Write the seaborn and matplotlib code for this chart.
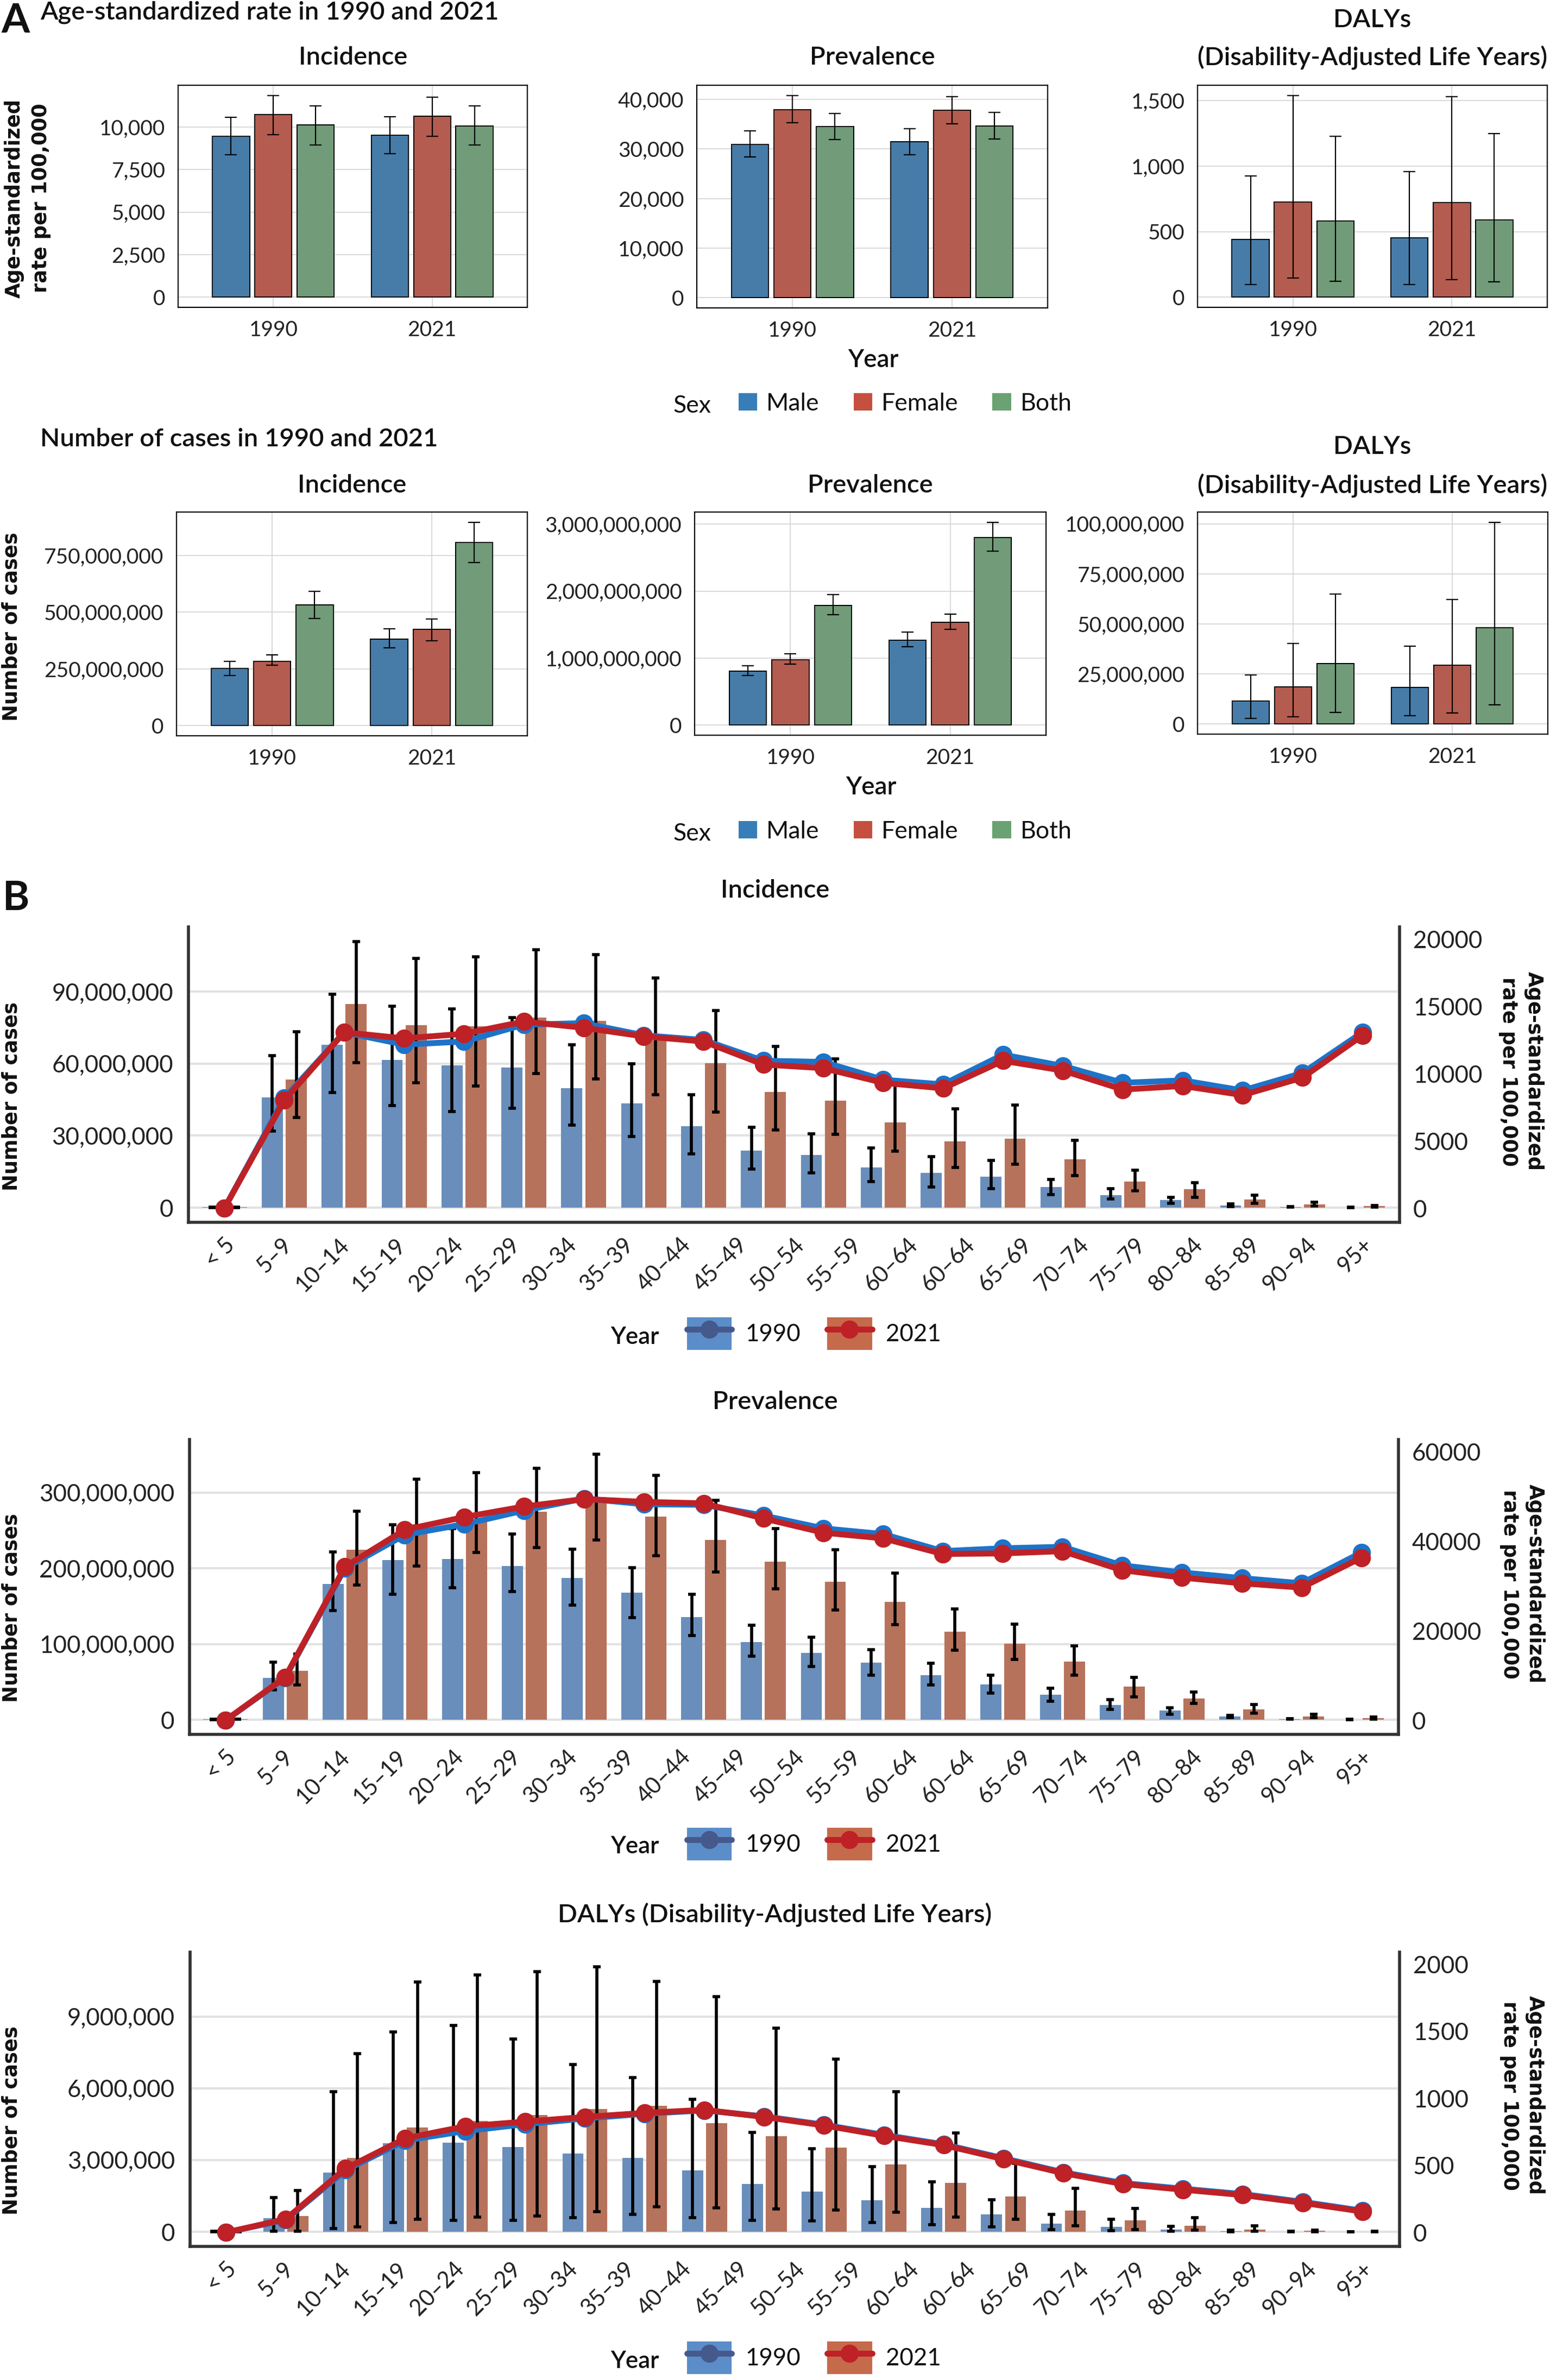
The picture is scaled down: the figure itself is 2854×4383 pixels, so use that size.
import numpy as np
import pandas as pd
import matplotlib
matplotlib.use('Agg')
import matplotlib.pyplot as plt
import matplotlib.transforms as mtransforms
from matplotlib.patches import Patch
from matplotlib.lines import Line2D
from matplotlib.ticker import MultipleLocator, FuncFormatter
import seaborn as sns

sns.set_style('white')
plt.rcParams['font.family'] = ['Lato', 'DejaVu Sans']

# ── Panel A data (order: 1990 Male/Female/Both, 2021 Male/Female/Both) ──
years = ['1990', '2021']
sexes = ['Male', 'Female', 'Both']

inc_rate_val = [9447, 10715, 10128, 9526, 10635, 10065]
inc_rate_lo = [8353, 9558, 8955, 8416, 9447, 8955]
inc_rate_hi = [10556, 11856, 11222, 10588, 11745, 11222]

prev_rate_val = [30887, 37981, 34543, 31432, 37817, 34652]
prev_rate_lo = [28376, 35307, 31869, 28813, 35089, 31978]
prev_rate_hi = [33670, 40818, 37162, 34106, 40600, 37380]

daly_rate_val = [439, 729, 583, 453, 723, 589]
daly_rate_lo = [99, 146, 122, 99, 136, 119]
daly_rate_hi = [925, 1541, 1230, 958, 1533, 1248]

inc_cases_val = [251e6, 282e6, 532e6, 380e6, 425e6, 808e6]
inc_cases_lo = [220e6, 267e6, 473e6, 342e6, 375e6, 719e6]
inc_cases_hi = [282e6, 312e6, 592e6, 427e6, 470e6, 896e6]

prev_cases_val = [0.809e9, 0.974e9, 1.783e9, 1.271e9, 1.535e9, 2.798e9]
prev_cases_lo = [0.739e9, 0.908e9, 1.647e9, 1.172e9, 1.428e9, 2.596e9]
prev_cases_hi = [0.887e9, 1.065e9, 1.948e9, 1.387e9, 1.655e9, 3.029e9]

daly_cases_val = [11.4e6, 18.6e6, 30.1e6, 18.3e6, 29.4e6, 48.0e6]
daly_cases_lo = [2.8e6, 3.7e6, 5.9e6, 4.1e6, 5.5e6, 9.7e6]
daly_cases_hi = [24.4e6, 40.3e6, 64.8e6, 39.0e6, 62.2e6, 100.8e6]

# ── Panel B data (cases in millions, rates per 100,000) ──
age_groups = ['< 5', '5–9', '10–14', '15–19', '20–24', '25–29', '30–34', '35–39',
              '40–44', '45–49', '50–54', '55–59', '60–64', '65–69', '70–74',
              '75–79', '80–84', '85–89', '90–94', '95+']
# tick labels as printed in the figure (60–64 appears twice)
age_ticks = ['< 5', '5–9', '10–14', '15–19', '20–24', '25–29', '30–34', '35–39',
             '40–44', '45–49', '50–54', '55–59', '60–64', '60–64', '65–69', '70–74',
             '75–79', '80–84', '85–89', '90–94', '95+']

inc_1990 = [0.15, 46.0, 68.0, 61.6, 59.3, 58.3, 49.9, 43.5, 33.9, 23.8, 22.0, 16.8, 14.4, 13.0, 8.5, 5.3, 3.2, 0.9, 0.3, 0.1]
inc_1990_lo = [0.1, 32.0, 47.9, 42.6, 40.0, 41.5, 34.3, 29.6, 22.5, 16.1, 14.6, 10.8, 8.5, 8.0, 5.5, 3.6, 1.9, 0.5, 0.15, 0.05]
inc_1990_hi = [0.2, 63.3, 88.9, 83.9, 82.8, 79.2, 68.0, 60.0, 47.0, 33.4, 30.7, 24.8, 21.2, 19.7, 11.7, 7.9, 4.2, 1.5, 0.5, 0.2]
inc_2021 = [0.2, 53.4, 84.8, 76.0, 75.6, 79.2, 77.9, 69.6, 60.1, 48.3, 44.5, 35.6, 27.6, 28.8, 20.1, 10.8, 7.6, 3.4, 1.3, 0.6]
inc_2021_lo = [0.1, 37.5, 60.4, 52.1, 50.6, 55.9, 53.6, 47.0, 39.8, 32.4, 30.5, 23.5, 16.8, 18.2, 13.3, 7.0, 4.2, 1.9, 0.6, 0.3]
inc_2021_hi = [0.3, 73.3, 110.9, 103.8, 104.6, 107.6, 105.5, 95.8, 82.2, 67.3, 62.0, 52.1, 41.3, 42.8, 28.0, 15.6, 10.5, 5.3, 2.2, 1.0]
inc_rate_1990 = [0, 8180, 13070, 12160, 12390, 13640, 13750, 12850, 12500, 10960, 10870, 9550, 9200, 11410, 10570, 9320, 9500, 8750, 10050, 13070]
inc_rate_2021 = [0, 8020, 13070, 12620, 12960, 13870, 13410, 12770, 12390, 10680, 10410, 9320, 8910, 10960, 10230, 8820, 9090, 8410, 9710, 12840]

prev_1990 = [0.5, 55.3, 179.4, 210.5, 212.3, 203.0, 187.0, 167.5, 135.3, 102.8, 87.9, 75.5, 59.1, 46.7, 33.0, 19.5, 12.0, 4.5, 1.1, 0.4]
prev_1990_lo = [0.3, 39.3, 143.9, 165.6, 174.6, 169.0, 151.4, 134.6, 111.0, 84.0, 70.3, 58.7, 46.0, 35.5, 24.3, 13.8, 7.5, 3.0, 0.7, 0.2]
prev_1990_hi = [0.7, 75.9, 221.7, 257.2, 252.3, 245.6, 225.0, 201.0, 165.6, 124.5, 109.2, 92.7, 74.8, 59.1, 41.5, 26.9, 16.0, 5.6, 1.5, 0.6]
prev_2021 = [0.8, 64.3, 224.3, 258.0, 263.6, 274.8, 291.6, 268.0, 237.4, 208.6, 182.0, 155.9, 115.9, 100.2, 76.6, 44.1, 28.0, 13.8, 4.5, 2.2]
prev_2021_lo = [0.5, 45.6, 177.6, 203.0, 220.6, 227.0, 237.4, 216.8, 195.0, 173.0, 144.7, 125.2, 91.6, 79.3, 58.7, 29.9, 21.3, 8.6, 2.6, 1.0]
prev_2021_hi = [1.1, 86.7, 275.5, 317.8, 326.4, 332.0, 350.7, 322.6, 289.7, 252.3, 224.3, 193.3, 146.5, 126.4, 97.9, 56.0, 36.3, 19.8, 7.5, 3.5]
prev_rate_1990 = [0, 9525, 34000, 41400, 43815, 46860, 49530, 48260, 48130, 45720, 42860, 41590, 37780, 38420, 38735, 34600, 33020, 31750, 30600, 37465]
prev_rate_2021 = [0, 9650, 34290, 42545, 45400, 47750, 49400, 48770, 48450, 45085, 41910, 40640, 37150, 37275, 37780, 33530, 31880, 30600, 29650, 36320]

daly_1990 = [0.01, 0.56, 2.47, 3.70, 3.73, 3.55, 3.28, 3.09, 2.57, 1.99, 1.69, 1.33, 1.01, 0.72, 0.35, 0.20, 0.10, 0.03, 0.01, 0.005]
daly_1990_lo = [0.0, 0.02, 0.13, 0.39, 0.48, 0.48, 0.59, 0.72, 0.59, 0.49, 0.46, 0.39, 0.30, 0.20, 0.09, 0.04, 0.03, 0.01, 0.0, 0.0]
daly_1990_hi = [0.03, 1.43, 5.85, 8.35, 8.62, 8.06, 7.00, 6.44, 5.55, 4.16, 3.47, 2.73, 2.08, 1.34, 0.74, 0.52, 0.22, 0.06, 0.02, 0.01]
daly_2021 = [0.01, 0.65, 3.08, 4.36, 4.64, 4.88, 5.14, 5.27, 4.55, 4.00, 3.51, 2.82, 2.05, 1.47, 0.88, 0.49, 0.26, 0.10, 0.04, 0.01]
daly_2021_lo = [0.0, 0.02, 0.20, 0.52, 0.61, 0.65, 0.85, 1.04, 1.00, 0.95, 0.91, 0.81, 0.62, 0.52, 0.26, 0.09, 0.07, 0.02, 0.01, 0.0]
daly_2021_hi = [0.03, 1.72, 7.45, 10.44, 10.73, 10.88, 11.08, 10.47, 9.82, 8.52, 7.22, 5.85, 4.14, 2.86, 1.82, 0.98, 0.59, 0.26, 0.07, 0.02]
daly_rate_1990 = [0, 95, 465, 686, 756, 807, 850, 885, 910, 865, 803, 727, 657, 553, 448, 368, 326, 286, 228, 162]
daly_rate_2021 = [0, 100, 477, 702, 791, 826, 861, 891, 914, 861, 798, 721, 651, 547, 442, 361, 319, 279, 221, 156]

# ── style ──
sex_colors = {'Male': '#377EB8', 'Female': '#C5503F', 'Both': '#6AA274'}
bar_colors = {'1990': '#5B8DC9', '2021': '#C66A4C'}
line_colors = {'1990': '#1E73C8', '2021': '#BE2126'}
legend_line_colors = {'1990': '#46598C', '2021': '#BE2126'}
TXT = '#111111'

W, H, DPI = 2854, 4383, 200
fig = plt.figure(figsize=(W / DPI, H / DPI), dpi=DPI)
comma = FuncFormatter(lambda v, _: f'{v:,.0f}')


def px_box(l, t, r, b):
    return [l / W, 1 - b / H, (r - l) / W, (b - t) / H]


def ftext(x, y, s, **kw):
    kw.setdefault('color', TXT)
    return fig.text(x / W, 1 - y / H, s, **kw)


def add_errorbars(ax, df, hue, hue_levels, cat, order, lw, cap, capthick):
    for level, cont in zip(hue_levels, ax.containers):
        sub = df[df[hue] == level].set_index(cat).loc[order]
        xs = sorted(p.get_x() + p.get_width() / 2 for p in cont.patches)
        ax.errorbar(xs, sub['val'], yerr=[sub['val'] - sub['lo'], sub['hi'] - sub['val']],
                    fmt='none', ecolor='black', elinewidth=lw, capsize=cap,
                    capthick=capthick, zorder=3)


# ── Panel A ──
year_col = ['1990'] * 3 + ['2021'] * 3
sex_col = sexes * 2


def draw_a(box, val, lo, hi, step):
    ax = fig.add_axes(px_box(*box))
    df = pd.DataFrame({'Year': year_col, 'Sex': sex_col, 'val': val, 'lo': lo, 'hi': hi})
    sns.barplot(data=df, x='Year', y='val', hue='Sex', order=years, hue_order=sexes,
                palette=sex_colors, width=0.8, gap=0.125, errorbar=None, legend=False,
                edgecolor='black', linewidth=0.7, zorder=2, ax=ax)
    add_errorbars(ax, df, 'Sex', sexes, 'Year', years, lw=0.8, cap=4, capthick=0.8)
    top = max(hi)
    ax.set_ylim(-0.05 * top, 1.05 * top)
    ax.set_xlim(-0.6, 1.6)
    ax.yaxis.set_major_locator(MultipleLocator(step))
    ax.yaxis.set_major_formatter(comma)
    ax.grid(True, color='#D3D3D3', linewidth=0.6)
    ax.set_axisbelow(True)
    ax.set_xlabel('')
    ax.set_ylabel('')
    for s in ax.spines.values():
        s.set_visible(True)
        s.set_color('black')
        s.set_linewidth(0.8)
    ax.tick_params(direction='out', length=4.5, width=0.7, color='black',
                   labelsize=14, labelcolor='#222222', pad=4)
    return ax


draw_a((328, 157, 971, 566), inc_rate_val, inc_rate_lo, inc_rate_hi, 2500)
draw_a((1283, 157, 1929, 567), prev_rate_val, prev_rate_lo, prev_rate_hi, 10000)
draw_a((2205, 157, 2849, 566), daly_rate_val, daly_rate_lo, daly_rate_hi, 500)
draw_a((325, 943, 971, 1355), inc_cases_val, inc_cases_lo, inc_cases_hi, 250e6)
draw_a((1279, 943, 1926, 1354), prev_cases_val, prev_cases_lo, prev_cases_hi, 1e9)
draw_a((2205, 943, 2850, 1352), daly_cases_val, daly_cases_lo, daly_cases_hi, 25e6)

TITLE = dict(fontsize=17, fontweight='semibold', va='baseline')
ftext(2, 60, 'A', fontsize=27, fontweight='bold', va='baseline')
ftext(74, 35, 'Age-standardized rate in 1990 and 2021', ha='left', **TITLE)
ftext(650, 119, 'Incidence', ha='center', **TITLE)
ftext(1606, 119, 'Prevalence', ha='center', **TITLE)
ftext(2527, 50, 'DALYs', ha='center', **TITLE)
ftext(2527, 119, '(Disability-Adjusted Life Years)', ha='center', **TITLE)
ftext(1608, 676, 'Year', ha='center', fontsize=16.5, fontweight='semibold', va='baseline')
ftext(51, 365, 'Age-standardized\nrate per 100,000', rotation=90, ha='center', va='center',
      fontsize=13.3, fontweight='bold', family='DejaVu Sans', linespacing=1.4)

ftext(74, 822, 'Number of cases in 1990 and 2021', ha='left', **TITLE)
ftext(648, 907, 'Incidence', ha='center', **TITLE)
ftext(1602, 907, 'Prevalence', ha='center', **TITLE)
ftext(2527, 836, 'DALYs', ha='center', **TITLE)
ftext(2527, 907, '(Disability-Adjusted Life Years)', ha='center', **TITLE)
ftext(1604, 1463, 'Year', ha='center', fontsize=16.5, fontweight='semibold', va='baseline')
ftext(21, 1154, 'Number of cases', rotation=90, ha='center', va='center',
      fontsize=13.3, fontweight='bold', family='DejaVu Sans')


def sex_legend(y_center, baseline):
    ftext(1239, baseline, 'Sex', fontsize=16, va='baseline')
    handles = [Patch(facecolor=sex_colors[s], edgecolor='none') for s in sexes]
    leg = fig.legend(handles, sexes, loc='center left', bbox_to_anchor=(1360 / W, 1 - y_center / H),
                     ncol=3, frameon=False, fontsize=16, handlelength=0.77, handleheight=0.74,
                     handletextpad=0.38, columnspacing=1.42, borderpad=0, borderaxespad=0)
    for t in leg.get_texts():
        t.set_color(TXT)


sex_legend(743, 760)
sex_legend(1531, 1548)

# ── Panel B ──
n_age = len(age_groups)


def draw_b(box, v90, lo90, hi90, v21, lo21, hi21, r90, r21, step, rate_step, rate_top):
    ax = fig.add_axes(px_box(*box))
    df = pd.DataFrame({
        'Age': age_groups * 2,
        'Year': ['1990'] * n_age + ['2021'] * n_age,
        'val': np.array(v90 + v21) * 1e6,
        'lo': np.array(lo90 + lo21) * 1e6,
        'hi': np.array(hi90 + hi21) * 1e6,
    })
    sns.barplot(data=df, x='Age', y='val', hue='Year', order=age_groups, hue_order=years,
                palette=bar_colors, width=0.8, gap=0.12, errorbar=None, legend=False,
                linewidth=0, zorder=2, ax=ax)
    add_errorbars(ax, df, 'Year', years, 'Age', age_groups, lw=2.0, cap=2.4, capthick=2.0)

    ax2 = ax.twinx()
    for yr, rates in (('1990', r90), ('2021', r21)):
        sns.pointplot(x=age_groups, y=rates, order=age_groups, color=line_colors[yr],
                      markers='o', linestyles='-', linewidth=3.9, markersize=12,
                      markeredgewidth=0, errorbar=None, ax=ax2)

    m = max(hi90 + hi21) * 1e6
    ax.set_ylim(-0.055 * m, 1.055 * m)
    ax2.set_ylim(-0.052 * rate_top, 1.045 * rate_top)
    ax.set_xlim(-0.6, n_age - 1 + 0.62)
    ax.yaxis.set_major_locator(MultipleLocator(step))
    ax.yaxis.set_major_formatter(comma)
    ax2.yaxis.set_major_locator(MultipleLocator(rate_step))
    ax2.yaxis.set_major_formatter(FuncFormatter(lambda v, _: f'{v:.0f}'))

    ax.set_xticks(np.linspace(0, n_age - 1, len(age_ticks)))
    ax.set_xticklabels(age_ticks, rotation=45, ha='right', va='top', rotation_mode='anchor')
    shift = mtransforms.ScaledTranslation(5 / 72, 0, fig.dpi_scale_trans)
    for lab in ax.get_xticklabels():
        lab.set_transform(lab.get_transform() + shift)

    ax.yaxis.grid(True, color='#E2E2E2', linewidth=1.5)
    ax.xaxis.grid(False)
    ax.set_axisbelow(True)
    ax2.grid(False)
    for a in (ax, ax2):
        a.set_xlabel('')
        a.set_ylabel('')
        for s in a.spines.values():
            s.set_visible(False)
            s.set_color('#333333')
            s.set_linewidth(2.0)
    ax.spines['left'].set_visible(True)
    ax.spines['bottom'].set_visible(True)
    ax2.spines['right'].set_visible(True)
    ax.tick_params(axis='y', length=0, pad=10, labelsize=15.8, labelcolor='#222222')
    ax.tick_params(axis='x', length=0, pad=8, labelsize=15, labelcolor='#222222')
    ax2.tick_params(axis='y', length=0, pad=9, labelsize=15.8, labelcolor='#222222')
    return ax


def year_legend(y_center, baseline):
    ftext(1124, baseline, 'Year', fontsize=15.8, fontweight='semibold', va='baseline')
    handles = [(Patch(facecolor=bar_colors[y], edgecolor='none'),
                Line2D([], [], color=legend_line_colors[y], marker='o', markersize=12,
                       linewidth=3.9, markeredgewidth=0)) for y in years]
    leg = fig.legend(handles, years, loc='center left', bbox_to_anchor=(1265 / W, 1 - y_center / H),
                     ncol=2, frameon=False, fontsize=15.8, handlelength=1.87, handleheight=1.72,
                     handletextpad=0.58, columnspacing=1.12, borderpad=0, borderaxespad=0)
    for t in leg.get_texts():
        t.set_color(TXT)


RATE_LABEL = dict(rotation=270, ha='center', va='center', fontsize=13.3, fontweight='bold',
                  family='DejaVu Sans', linespacing=1.35)
CASES_LABEL = dict(rotation=90, ha='center', va='center', fontsize=13.3, fontweight='bold',
                   family='DejaVu Sans')

ftext(5, 1676, 'B', fontsize=27, fontweight='bold', va='baseline')

ftext(1427, 1653, 'Incidence', ha='center', **TITLE)
draw_b((347, 1707, 2577, 2251), inc_1990, inc_1990_lo, inc_1990_hi,
       inc_2021, inc_2021_lo, inc_2021_hi, inc_rate_1990, inc_rate_2021, 30e6, 5000, 20000)
ftext(21, 2019, 'Number of cases', **CASES_LABEL)
ftext(2801, 1973, 'Age-standardized\nrate per 100,000', **RATE_LABEL)
year_legend(2456, 2475)

ftext(1427, 2595, 'Prevalence', ha='center', **TITLE)
draw_b((349, 2651, 2575, 3194), prev_1990, prev_1990_lo, prev_1990_hi,
       prev_2021, prev_2021_lo, prev_2021_hi, prev_rate_1990, prev_rate_2021, 100e6, 20000, 60000)
ftext(21, 2961, 'Number of cases', **CASES_LABEL)
ftext(2803, 2917, 'Age-standardized\nrate per 100,000', **RATE_LABEL)
year_legend(3396, 3413)

ftext(1427, 3540, 'DALYs (Disability-Adjusted Life Years)', ha='center', **TITLE)
draw_b((350, 3595, 2577, 4137), daly_1990, daly_1990_lo, daly_1990_hi,
       daly_2021, daly_2021_lo, daly_2021_hi, daly_rate_1990, daly_rate_2021, 3e6, 500, 2000)
ftext(21, 3905, 'Number of cases', **CASES_LABEL)
ftext(2803, 3859, 'Age-standardized\nrate per 100,000', **RATE_LABEL)
year_legend(4342, 4361)

fig.savefig('out.png', dpi=DPI)
